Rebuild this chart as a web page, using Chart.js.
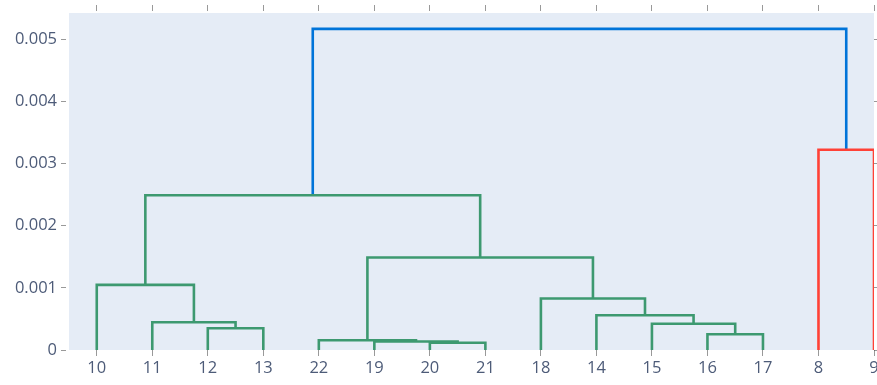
<!DOCTYPE html>
<html>
<head>
<meta charset="utf-8">
<script src="https://cdn.jsdelivr.net/npm/chart.js@4.4.1/dist/chart.umd.min.js"></script>
<style>
  html, body { margin: 0; padding: 0; background: #ffffff; overflow: hidden; }
  #wrap { width: 877px; height: 385px; position: relative; }
</style>
</head>
<body>
<div id="wrap"><canvas id="chart"></canvas></div>
<script>
// Leaves in dendrogram order and their positions on the x axis
const leafLabels = ['10', '11', '12', '13', '22', '19', '20', '21', '18', '14', '15', '16', '17', '8', '9'];
const leafX = [5, 15, 25, 35, 45, 55, 65, 75, 85, 95, 105, 115, 125, 135, 145];

// Linkage: node ids 0..14 are leaves, merge k creates node 15 + k
const mergeLeft   = [6, 5, 4, 11, 2, 10, 1, 9, 8, 0, 17, 24, 13, 26];
const mergeRight  = [7, 15, 16, 12, 3, 18, 19, 20, 22, 21, 23, 25, 14, 27];
const mergeHeight = [0.000116, 0.000137, 0.000158, 0.000254, 0.00035, 0.000421, 0.000447,
                     0.00056, 0.000828, 0.001048, 0.001487, 0.00249, 0.00322, 0.005164];
const mergeGroup  = ['g', 'g', 'g', 'g', 'g', 'g', 'g', 'g', 'g', 'g', 'g', 'g', 'r', 'b'];

const yTicks = [0, 0.001, 0.002, 0.003, 0.004, 0.005];

const groupColours = { g: 'rgb(61,153,112)', r: 'rgb(255,65,54)', b: 'rgb(0,116,217)' };
const labelColour = '#4d5b78';
const tickColour = 'rgba(70,70,70,0.55)';

// Node positions: leaves sit on the axis, merged nodes at the midpoint of their children
const nodeX = leafX.slice();
const nodeH = leafX.map(() => 0);
const datasets = [];
mergeLeft.forEach((a, k) => {
  const b = mergeRight[k];
  const h = mergeHeight[k];
  datasets.push({
    data: [
      { x: nodeX[a], y: nodeH[a] },
      { x: nodeX[a], y: h },
      { x: nodeX[b], y: h },
      { x: nodeX[b], y: nodeH[b] }
    ],
    showLine: true,
    borderColor: groupColours[mergeGroup[k]],
    borderWidth: 2.6,
    pointRadius: 0,
    pointHoverRadius: 0,
    fill: false,
    borderJoinStyle: 'miter'
  });
  nodeX.push((nodeX[a] + nodeX[b]) / 2);
  nodeH.push(h);
});

const plotBackground = {
  id: 'plotBackground',
  beforeDraw(chart) {
    const { ctx, chartArea: a } = chart;
    ctx.save();
    ctx.fillStyle = '#E5ECF6';
    ctx.fillRect(a.left, a.top, a.right - a.left, a.bottom - a.top);
    ctx.restore();
  }
};

const setLeafTicks = s => { s.ticks = leafX.map(v => ({ value: v })); };
const setYTicks = s => { s.ticks = yTicks.map(v => ({ value: v })); };
// Fixed axis sizes; edge labels are allowed to run past the plot area
const fixHeight = h => s => { s.height = h; s.paddingLeft = 0; s.paddingRight = 0; };
const fixWidth = w => s => { s.width = w; s.paddingTop = 0; s.paddingBottom = 0; };
const font = { family: '"Open Sans", "DejaVu Sans", sans-serif', size: 16.5 };

new Chart(document.getElementById('chart'), {
  type: 'scatter',
  data: { datasets },
  plugins: [plotBackground],
  options: {
    responsive: true,
    maintainAspectRatio: false,
    animation: false,
    events: [],
    layout: { padding: 0 },
    plugins: { legend: { display: false }, tooltip: { enabled: false } },
    scales: {
      x: {
        type: 'linear', position: 'bottom', min: 0, max: 145,
        afterBuildTicks: setLeafTicks,
        afterFit: fixHeight(35),
        border: { display: false },
        grid: { drawOnChartArea: false, drawTicks: true, tickLength: 6, tickColor: tickColour, tickWidth: 1 },
        ticks: {
          autoSkip: false, maxRotation: 0, padding: 2, color: labelColour, font,
          callback: v => { const i = leafX.indexOf(v); return i >= 0 ? leafLabels[i] : ''; }
        }
      },
      xTop: {
        type: 'linear', position: 'top', min: 0, max: 145,
        afterBuildTicks: setLeafTicks,
        afterFit: fixHeight(13),
        border: { display: false },
        grid: { drawOnChartArea: false, drawTicks: true, tickLength: 8, tickColor: tickColour, tickWidth: 1, tickBorderDash: [6, 10] },
        ticks: { display: false }
      },
      y: {
        type: 'linear', position: 'left', min: 0, max: 0.00542,
        afterBuildTicks: setYTicks,
        afterFit: fixWidth(69),
        border: { display: false },
        grid: { drawOnChartArea: false, drawTicks: true, tickLength: 8, tickColor: tickColour, tickWidth: 1, tickBorderDash: [5, 10] },
        ticks: {
          padding: 4, color: labelColour, font,
          callback: v => (v === 0 ? '0' : v.toFixed(3))
        }
      },
      yRight: {
        type: 'linear', position: 'right', min: 0, max: 0.00542,
        afterBuildTicks: setYTicks,
        afterFit: fixWidth(3),
        border: { display: false },
        grid: { drawOnChartArea: false, drawTicks: true, tickLength: 4, tickColor: tickColour, tickWidth: 1 },
        ticks: { display: false }
      }
    }
  }
});
</script>
</body>
</html>
